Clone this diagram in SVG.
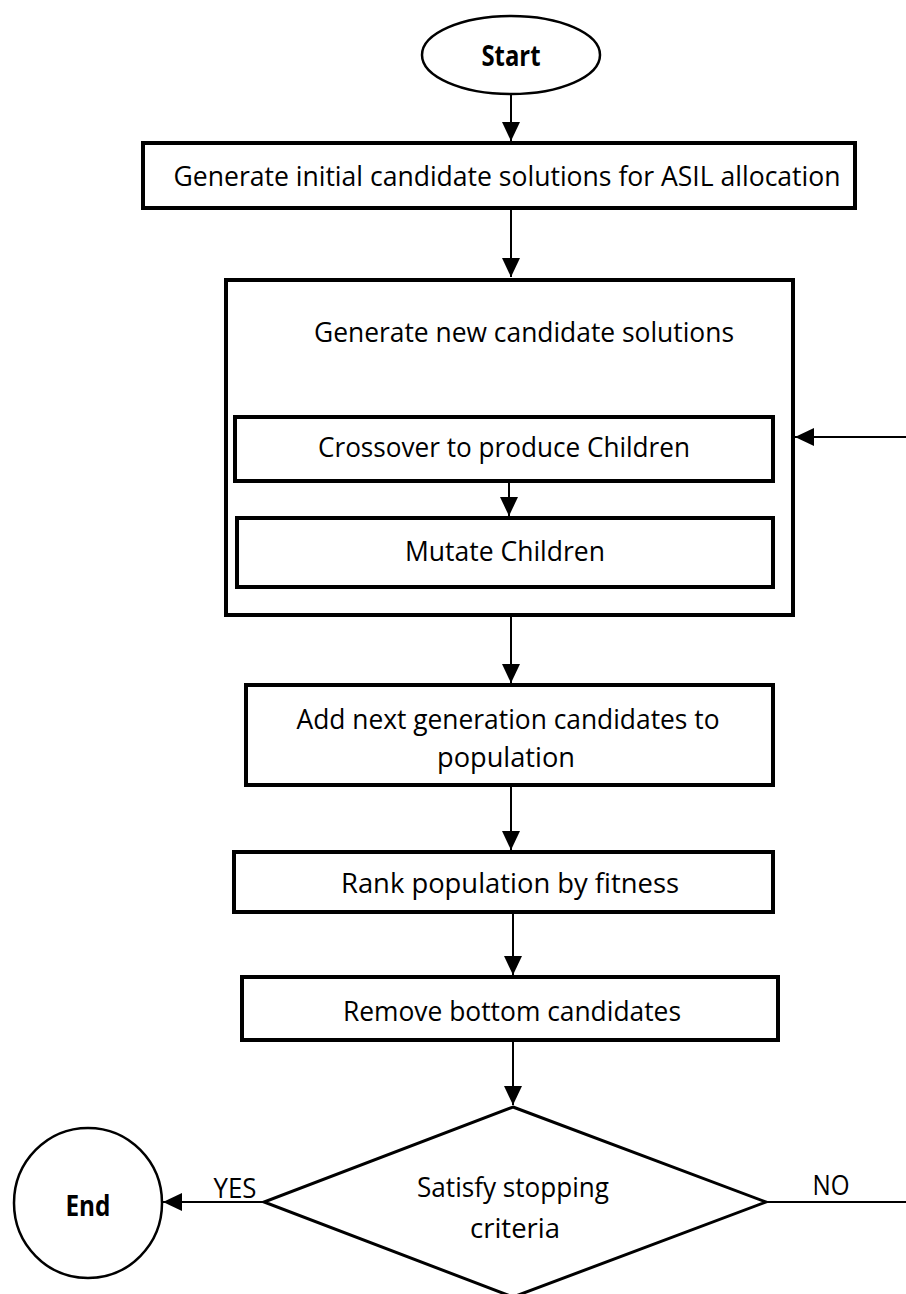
<svg xmlns="http://www.w3.org/2000/svg" width="906" height="1294" viewBox="0 0 906 1294">
<defs>
<style>
.box{fill:#fff;stroke:#000;stroke-width:4}
.term{fill:#fff;stroke:#000;stroke-width:2.5}
.lbl{font-family:"Open Sans","Noto Sans",sans-serif;font-size:28px;fill:#000;text-anchor:middle}
.bold{font-weight:bold}
.conn{fill:none;stroke:#000;stroke-width:2}
</style>
<marker id="ahb" markerWidth="20" markerHeight="20" refX="19" refY="10" orient="auto" markerUnits="userSpaceOnUse" viewBox="0 0 20 20">
<path d="M0,1 L19,10 L0,19 Z" fill="#000"/>
</marker>
</defs>
<rect width="906" height="1294" fill="#fff"/>
<g id="start">
<ellipse class="term" cx="511" cy="55" rx="89" ry="39"/>
<text class="lbl bold" x="511" y="66" textLength="59" lengthAdjust="spacingAndGlyphs">Start</text>
</g>
<g id="init">
<rect class="box" x="143" y="143" width="712" height="65"/>
<text class="lbl" x="507" y="186" textLength="667" lengthAdjust="spacingAndGlyphs">Generate initial candidate solutions for ASIL allocation</text>
</g>
<g id="generate">
<rect class="box" x="226" y="280" width="567" height="335"/>
<text class="lbl" x="524" y="342" textLength="420" lengthAdjust="spacingAndGlyphs">Generate new candidate solutions</text>
</g>
<g id="crossover">
<rect class="box" x="235" y="417" width="538" height="64"/>
<text class="lbl" x="504" y="457" textLength="372" lengthAdjust="spacingAndGlyphs">Crossover to produce Children</text>
</g>
<g id="mutate">
<rect class="box" x="237" y="518" width="536" height="69"/>
<text class="lbl" x="505" y="561" textLength="200" lengthAdjust="spacingAndGlyphs">Mutate Children</text>
</g>
<g id="add">
<rect class="box" x="246" y="685" width="527" height="100"/>
<text class="lbl" x="508" y="729" textLength="423" lengthAdjust="spacingAndGlyphs">Add next generation candidates to</text>
<text class="lbl" x="506" y="767" textLength="138" lengthAdjust="spacingAndGlyphs">population</text>
</g>
<g id="rank">
<rect class="box" x="234" y="852" width="539" height="60"/>
<text class="lbl" x="510" y="893" textLength="338" lengthAdjust="spacingAndGlyphs">Rank population by fitness</text>
</g>
<g id="remove">
<rect class="box" x="242" y="977" width="536" height="63"/>
<text class="lbl" x="512" y="1021" textLength="338" lengthAdjust="spacingAndGlyphs">Remove bottom candidates</text>
</g>
<g id="decision">
<polygon class="box" style="stroke-width:3" points="513,1107 766,1202 513,1297 264,1202"/>
<text class="lbl" x="513" y="1197" textLength="192" lengthAdjust="spacingAndGlyphs">Satisfy stopping</text>
<text class="lbl" x="515" y="1238" textLength="90" lengthAdjust="spacingAndGlyphs">criteria</text>
</g>
<g id="end">
<ellipse class="term" cx="88" cy="1203" rx="74" ry="75"/>
<text class="lbl bold" x="88" y="1216" textLength="45" lengthAdjust="spacingAndGlyphs">End</text>
</g>
<g id="connectors">
<line class="conn" x1="511" y1="94" x2="511" y2="141" marker-end="url(#ahb)"/>
<line class="conn" x1="511" y1="210" x2="511" y2="277" marker-end="url(#ahb)"/>
<line class="conn" x1="509" y1="483" x2="509" y2="516" marker-end="url(#ahb)"/>
<line class="conn" x1="511" y1="617" x2="511" y2="683" marker-end="url(#ahb)"/>
<line class="conn" x1="511" y1="787" x2="511" y2="850" marker-end="url(#ahb)"/>
<line class="conn" x1="513" y1="914" x2="513" y2="975" marker-end="url(#ahb)"/>
<line class="conn" x1="513" y1="1042" x2="513" y2="1105" marker-end="url(#ahb)"/>
<line class="conn" x1="906" y1="437" x2="795" y2="437" marker-end="url(#ahb)"/>
<line class="conn" x1="263" y1="1202" x2="163" y2="1202" marker-end="url(#ahb)"/>
<line class="conn" x1="767" y1="1202" x2="906" y2="1202"/>
<text class="lbl" x="235" y="1198" textLength="43" lengthAdjust="spacingAndGlyphs">YES</text>
<text class="lbl" x="831" y="1195" textLength="37" lengthAdjust="spacingAndGlyphs">NO</text>
</g>
</svg>
